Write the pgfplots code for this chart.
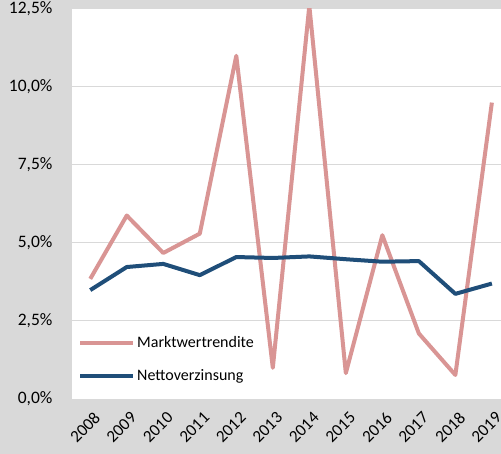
\documentclass[border=0pt]{standalone}
\usepackage{pgfplots}
\pgfplotsset{compat=1.18}
\usepackage{fontspec}
\setmainfont{Carlito}
\definecolor{bg}{HTML}{D9D9D9}
\definecolor{pinkline}{HTML}{D99594}
\definecolor{blueline}{HTML}{1F4E79}
\definecolor{gridc}{HTML}{D9D9D9}
\begin{document}
\begin{tikzpicture}
\fill[bg] (-72bp,-55bp) rectangle (429bp,399bp);
\useasboundingbox (-72bp,-55bp) rectangle (429bp,399bp);
\begin{axis}[
  at={(0,0)}, anchor=south west,
  scale only axis, width=429bp, height=390bp,
  xmin=2007.5, xmax=2019.25,
  ymin=0, ymax=12.5,
  axis line style={draw=none},
  axis background/.style={fill=white},
  major tick length=0pt,
  ymajorgrids, grid style={gridc, line width=1bp},
  ytick={0,2.5,5,7.5,10,12.5},
  yticklabels={{0,0\%},{2,5\%},{5,0\%},{7,5\%},{10,0\%},{12,5\%}},
  xtick={2008,...,2019},
  xticklabels={2008,2009,2010,2011,2012,2013,2014,2015,2016,2017,2018,2019},
  xticklabel style={rotate=45, anchor=north east, font=\fontsize{17bp}{20bp}\selectfont, xshift=-3bp, yshift=-7bp},
  yticklabel style={font=\fontsize{17.5bp}{20bp}\selectfont, xshift=-16bp},
  legend style={at={(0.007,0.17)}, anchor=north west, draw=none, fill=none,
    font=\fontsize{16bp}{19bp}\selectfont, row sep=16bp},
  legend cell align=left,
  legend image code/.code={\draw[#1] (0bp,0bp) -- (53bp,0bp);},
]
\addplot[pinkline, line width=4bp, line join=round] coordinates {
(2008,3.85) (2009,5.88) (2010,4.68) (2011,5.3) (2012,11.0) (2013,1.0)
(2014,12.6) (2015,0.83) (2016,5.25) (2017,2.1) (2018,0.77) (2019,9.5)};
\addlegendentry{Marktwertrendite}
\addplot[blueline, line width=4bp, line join=round] coordinates {
(2008,3.49) (2009,4.23) (2010,4.33) (2011,3.97) (2012,4.55) (2013,4.52)
(2014,4.57) (2015,4.48) (2016,4.4) (2017,4.42) (2018,3.37) (2019,3.7)};
\addlegendentry{Nettoverzinsung}
\end{axis}
\end{tikzpicture}
\end{document}
